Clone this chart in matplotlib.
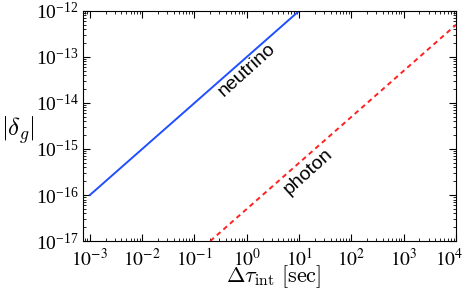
import matplotlib
matplotlib.use('Agg')
import matplotlib.pyplot as plt
import matplotlib.transforms as mtransforms
from matplotlib.ticker import LogLocator, NullFormatter

plt.rcParams['mathtext.fontset'] = 'stix'
plt.rcParams['font.family'] = 'Liberation Serif'

# Data
tau_neutrino = [1e-3, 1e1]
delta_neutrino = [1e-16, 1e-12]
tau_photon = [0.2, 1e4]
delta_photon = [1e-17, 5e-13]

x_ticks = [1e-3, 1e-2, 1e-1, 1e0, 1e1, 1e2, 1e3, 1e4]
x_labels = [r'$10^{-3}$', r'$10^{-2}$', r'$10^{-1}$', r'$10^{0}$',
            r'$10^{1}$', r'$10^{2}$', r'$10^{3}$', r'$10^{4}$']

fig = plt.figure(figsize=(4.63, 2.94), dpi=100)
ax = fig.add_axes([0.179, 0.180, 0.806, 0.783])

ax.plot(tau_neutrino, delta_neutrino, color='#1f4fff', lw=1.4)
ax.plot(tau_photon, delta_photon, color='#ff2020', lw=1.4, ls=(0, (2.5, 2.0)))

ax.set_xscale('log')
ax.set_yscale('log')
ax.set_xticks(x_ticks, x_labels)
ax.set_xlim(7.35e-4, 1e4)
ax.set_ylim(1e-17, 1e-12)

ax.yaxis.set_major_locator(LogLocator(base=10, numticks=20))
ax.xaxis.set_minor_locator(LogLocator(base=10, subs=range(2, 10), numticks=20))
ax.yaxis.set_minor_locator(LogLocator(base=10, subs=range(2, 10), numticks=20))
ax.xaxis.set_minor_formatter(NullFormatter())
ax.yaxis.set_minor_formatter(NullFormatter())

ax.tick_params(which='both', direction='in', top=True, right=True, labelsize=14)
ax.tick_params(which='major', length=5, width=0.8, pad=3)
ax.tick_params(which='minor', length=2.5, width=0.6)
ax.tick_params(axis='x', which='major', pad=5)

# nudge the last x label left so it stays inside the figure
last = ax.get_xticklabels()[-1]
last.set_transform(last.get_transform() +
                   mtransforms.ScaledTranslation(-0.07, 0, fig.dpi_scale_trans))

# axis labels placed as figure text
fig.text(0.59, 0.060, r'$\Delta\tau_{\rm int}\ [{\rm sec}]$', fontsize=16,
         math_fontfamily='cm', ha='center', va='center')
fig.text(0.038, 0.558, r'$|\delta_g|$', fontsize=18,
         math_fontfamily='cm', ha='center', va='center')

ax.text(1.0, 5.3e-14, 'neutrino', rotation=42, fontsize=14, family='Liberation Sans',
        ha='center', va='center')
ax.text(15, 3.2e-16, 'photon', rotation=42, fontsize=14, family='Liberation Sans',
        ha='center', va='center')

fig.savefig('out.png', dpi=100)
